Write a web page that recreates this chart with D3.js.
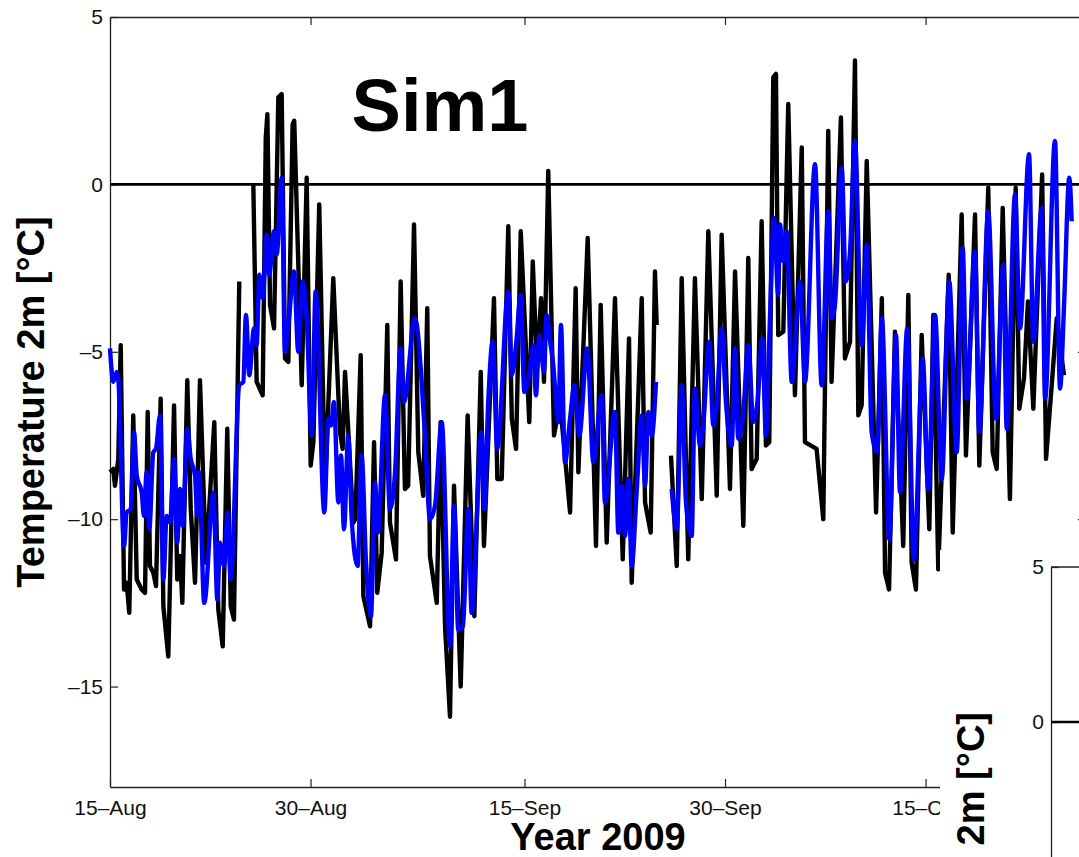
<!DOCTYPE html>
<html>
<head>
<meta charset="utf-8">
<script src="https://cdn.jsdelivr.net/npm/d3@7"></script>
<style>
  body { margin: 0; background: #fff; }
  svg { display: block; font-family: "Liberation Sans", Arial, Helvetica, sans-serif; }
</style>
</head>
<body>
<script>
const width = 1079;
const height = 857;

// days since 15-Aug-2009 00:00, temperature [°C]; null = missing data
const obsSeries = [
  [0.00,-8.6],[0.25,-8.5],[0.37,-9.0],[0.62,-8.2],[0.80,-4.8],[1.05,-12.1],[1.25,-11.9],[1.44,-12.8],
  [1.74,-6.9],[2.00,-11.8],[2.37,-12.1],[2.62,-12.2],[2.82,-6.8],[2.99,-11.4],[3.24,-11.6],[3.44,-12.0],
  [3.79,-6.4],[3.99,-12.6],[4.36,-14.1],[4.79,-6.6],[5.03,-11.8],[5.24,-11.1],[5.41,-12.5],[5.78,-5.85],
  [6.04,-9.7],[6.36,-11.9],[6.73,-5.85],[7.18,-11.3],[7.80,-7.1],[8.10,-12.7],[8.43,-13.8],[8.77,-7.3],
  [9.03,-12.6],[9.27,-13.0],[9.67,-2.9],[10.2,null],
  [10.72,0.0],[10.97,-5.9],[11.42,-6.3],[11.65,1.4],[11.77,2.1],[11.97,-3.6],[12.27,-4.3],[12.59,2.6],
  [12.84,2.7],[13.09,-5.2],[13.34,-5.3],[13.66,1.8],[13.78,1.9],[14.34,-6.0],[14.71,0.2],[15.01,-8.4],
  [15.21,-7.7],[15.65,-0.6],[16.08,-9.1],[16.70,-2.8],[17.20,-7.4],[17.40,-7.9],[17.58,-5.6],[18.20,-10.1],
  [18.35,-10.0],[18.75,-5.1],[18.95,-12.3],[19.45,-13.2],[19.75,-7.7],[19.99,-12.2],[20.32,-11.0],[20.74,-4.2],
  [20.94,-10.1],[21.39,-11.2],[21.74,-2.9],[22.06,-9.1],[22.30,-9.0],[22.74,-1.2],[23.06,-8.0],[23.43,-9.3],
  [23.73,-3.7],[23.93,-11.1],[24.44,-12.5],[24.73,-7.1],[25.06,-13.2],[25.43,-15.9],[25.73,-9.0],[26.23,-15.0],
  [26.75,-6.9],[27.25,-12.9],[27.73,-5.6],[27.97,-10.8],[28.72,-3.4],[28.97,-8.8],[29.30,-8.8],[29.79,-1.25],
  [30.05,-7.0],[30.37,-7.9],[30.72,-1.4],[31.36,-7.1],[31.62,-2.3],[31.94,-5.5],[32.24,-3.4],[32.46,-5.9],
  [32.78,0.4],[33.21,-7.5],[33.66,-6.5],[34.41,-9.8],[34.83,-3.1],[35.03,-8.6],[35.73,-1.6],[36.35,-10.8],
  [36.70,-3.6],[37.15,-10.7],[37.77,-3.4],[38.35,-11.2],[38.82,-4.6],[39.02,-11.9],[39.77,-3.4],[40.02,-9.5],
  [40.44,-10.4],[40.76,-2.6],[40.89,-4.2],[41.4,null],
  [41.96,-8.1],[42.39,-11.4],[42.76,-2.8],[43.25,-11.2],[43.75,-2.8],[44.26,-9.4],[44.75,-1.4],[45.38,-9.3],
  [45.75,-1.5],[46.37,-9.1],[46.75,-2.6],[47.37,-10.2],[47.74,-2.2],[47.99,-8.5],[48.37,-8.2],[48.74,-1.1],
  [49.06,-7.8],[49.31,-7.7],[49.61,3.2],[49.81,3.3],[49.98,-4.5],[50.36,-4.4],[50.73,2.4],[51.23,-6.3],
  [51.74,1.1],[51.98,-7.7],[52.85,-7.9],[53.35,-10.0],[53.72,1.6],[53.97,-5.9],[54.67,2.0],[54.97,-5.2],
  [55.35,-4.7],[55.72,3.7],[55.97,-6.9],[56.22,-6.6],[56.60,0.7],[57.30,-9.8],[57.73,-3.4],[57.97,-11.6],
  [58.27,-12.1],[58.71,-4.4],[59.33,-10.8],[59.71,-3.3],[59.96,-11.3],[60.28,-12.1],[60.71,-4.5],[61.28,-10.3],
  [61.58,-3.9],[61.95,-11.5],[62.73,-2.7],[63.03,-10.4],[63.70,-0.9],[64.02,-8.1],[64.70,-0.9],[65.02,-8.4],
  [65.69,-0.1],[66.02,-8.0],[66.32,-8.5],[66.77,-0.7],[67.31,-9.4],[67.74,-0.1],[68.01,-6.7],[68.36,-5.8],
  [68.66,-3.5],[69.06,-6.7],[69.72,0.3],[70.01,-8.2],[70.53,-5.5],[70.81,-4.0],[71.35,-5.7]
];

const sim1Series = [
  [0.00,-4.9],[0.25,-5.9],[0.50,-5.6],[0.62,-5.8],[1.05,-10.8],[1.25,-9.8],[1.55,-9.7],[1.80,-7.4],
  [2.00,-8.7],[2.37,-9.2],[2.54,-9.9],[2.74,-8.6],[2.94,-10.3],[3.24,-8.0],[3.44,-7.9],[3.74,-6.9],
  [3.99,-11.8],[4.24,-9.9],[4.49,-10.1],[4.79,-8.2],[5.03,-10.7],[5.24,-9.1],[5.44,-10.2],[5.78,-7.3],
  [6.04,-8.2],[6.36,-8.7],[6.53,-9.9],[6.66,-8.6],[7.05,-12.5],[7.73,-9.2],[8.03,-12.4],[8.23,-10.7],
  [8.53,-11.4],[8.80,-9.8],[9.03,-11.8],[9.67,-6.0],[9.97,-5.9],[10.17,-3.9],[10.42,-5.7],[10.77,-4.3],
  [10.97,-4.8],[11.17,-2.7],[11.42,-3.4],[11.72,-1.5],[11.91,-2.7],[12.27,-1.4],[12.47,-2.1],[12.84,0.2],
  [13.09,-5.0],[13.34,-4.2],[13.76,-2.6],[14.08,-5.0],[14.41,-2.9],[14.71,-4.0],[15.09,-7.5],[15.38,-3.2],
  [16.03,-9.8],[16.33,-7.0],[16.53,-7.2],[16.75,-6.5],[17.08,-9.5],[17.28,-8.1],[17.50,-10.3],[17.82,-7.5],
  [18.08,-10.0],[18.52,-11.4],[18.82,-8.1],[19.15,-11.3],[19.52,-12.9],[19.82,-8.9],[20.04,-10.4],[20.57,-6.3],
  [20.94,-9.7],[21.32,-8.6],[21.74,-4.9],[21.99,-6.5],[22.81,-4.0],[23.56,-7.5],[23.93,-10.0],[24.31,-9.6],
  [24.81,-7.1],[25.43,-13.8],[25.73,-9.6],[26.05,-13.3],[26.40,-13.2],[26.80,-9.7],[27.05,-12.8],[27.80,-7.4],
  [27.99,-9.7],[28.29,-6.5],[28.62,-4.7],[28.97,-7.9],[29.79,-3.2],[30.05,-5.7],[30.37,-4.8],[30.72,-3.3],
  [30.99,-6.2],[31.34,-5.7],[31.66,-4.8],[31.86,-6.3],[32.11,-4.5],[32.46,-5.6],[32.66,-3.9],[32.96,-4.8],
  [33.13,-5.3],[33.53,-7.1],[33.73,-4.2],[34.03,-8.3],[34.41,-7.0],[34.73,-6.0],[35.10,-7.5],[35.70,-4.9],
  [36.15,-8.3],[36.78,-6.3],[37.02,-9.5],[37.77,-6.8],[38.02,-10.4],[38.30,-9.0],[38.52,-10.5],[38.77,-8.8],
  [39.02,-11.4],[39.39,-9.2],[39.77,-6.9],[40.02,-9.0],[40.27,-6.8],[40.52,-7.5],[40.84,-5.9],[41.4,null],
  [42.01,-9.1],[42.39,-10.3],[42.76,-6.0],[43.08,-9.5],[43.51,-10.5],[43.75,-6.1],[44.13,-7.8],[44.35,-7.3],
  [44.82,-4.7],[45.12,-7.2],[45.38,-6.6],[45.75,-4.3],[46.07,-6.5],[46.50,-7.8],[46.75,-4.9],[46.99,-7.6],
  [47.37,-6.8],[47.74,-4.8],[48.12,-7.1],[48.43,-6.5],[48.79,-4.6],[49.06,-7.5],[49.36,-4.0],[49.66,-1.0],
  [49.98,-3.3],[50.11,-1.2],[50.36,-2.3],[50.61,-1.4],[50.99,-5.9],[51.61,-2.9],[51.98,-5.9],[52.73,0.6],
  [53.23,-6.0],[53.72,-0.8],[53.97,-4.0],[54.22,-3.6],[54.73,0.5],[55.03,-2.9],[55.35,-2.0],[55.72,1.3],
  [56.22,-4.8],[56.60,-1.8],[56.97,-7.4],[57.39,-8.0],[57.73,-4.0],[58.29,-10.6],[58.79,-4.5],[59.09,-9.2],
  [59.63,-4.3],[60.13,-11.2],[60.79,-5.2],[61.20,-9.1],[61.71,-3.9],[62.21,-8.8],[62.77,-2.9],[63.33,-8.0],
  [63.78,-1.9],[64.08,-6.4],[64.70,-2.0],[65.02,-7.4],[65.69,-0.8],[66.27,-7.0],[66.81,-2.4],[67.07,-7.3],
  [67.69,-0.3],[68.06,-4.3],[68.74,0.9],[69.06,-4.7],[69.69,-0.7],[69.94,-6.4],[70.68,1.3],[71.06,-6.1],
  [71.35,-3.7],[71.75,0.2],[71.93,-1.1]
];

const startDate = new Date(2009, 7, 15);
const endDate = new Date(2009, 9, 27);
const dateTicks = [new Date(2009, 7, 15), new Date(2009, 7, 30), new Date(2009, 8, 15),
                   new Date(2009, 8, 30), new Date(2009, 9, 15), new Date(2009, 9, 30)];
const yTicks = [5, 0, -5, -10, -15];
const insetTicks = [5, 0, -5];

const toDate = d => new Date(startDate.getTime() + d * 864e5);

const svg = d3.select("body").append("svg")
  .attr("width", width).attr("height", height)
  .attr("viewBox", `0 0 ${width} ${height}`);

const x = d3.scaleTime().domain([startDate, endDate]).range([110, 1086]);
const y = d3.scaleLinear().domain([-18, 5]).range([787, 17]);

const fmt = d3.timeFormat("%d\u2013%b");
const numFmt = d => d < 0 ? "\u2013" + Math.abs(d) : String(d);

function styleAxis(g) {
  g.select(".domain").attr("stroke", "#222").attr("stroke-width", 1.3);
  g.selectAll(".tick line").attr("stroke", "#222").attr("stroke-width", 1.2);
  g.selectAll(".tick text").attr("fill", "#111").style("font-size", "21px")
    .style("font-family", "'Liberation Sans', Arial, sans-serif");
}

// axes box
svg.append("g").attr("transform", "translate(0,787)")
  .call(d3.axisBottom(x).tickValues(dateTicks).tickFormat(fmt).tickSizeInner(-8).tickSizeOuter(0).tickPadding(13))
  .call(styleAxis);
svg.append("g").attr("transform", "translate(0,17)")
  .call(d3.axisTop(x).tickValues(dateTicks).tickFormat("").tickSizeInner(-8).tickSizeOuter(0))
  .call(styleAxis);
svg.append("g").attr("transform", "translate(110,0)")
  .call(d3.axisLeft(y).tickValues(yTicks).tickFormat(numFmt).tickSizeInner(-8).tickSizeOuter(0).tickPadding(7))
  .call(styleAxis);
svg.append("g").attr("transform", "translate(1086,0)")
  .call(d3.axisRight(y).tickValues(yTicks).tickFormat("").tickSizeInner(-8).tickSizeOuter(0))
  .call(styleAxis);

// zero line
svg.append("line")
  .attr("x1", x(startDate)).attr("x2", x(endDate))
  .attr("y1", y(0)).attr("y2", y(0))
  .attr("stroke", "#000").attr("stroke-width", 2.6);

const line = d3.line()
  .defined(d => d[1] !== null)
  .x(d => x(toDate(d[0])))
  .y(d => y(d[1]));

svg.append("path").datum(obsSeries)
  .attr("d", line)
  .attr("fill", "none").attr("stroke", "#000").attr("stroke-width", 4.4)
  .attr("stroke-linejoin", "round");

svg.append("path").datum(sim1Series)
  .attr("d", line.curve(d3.curveMonotoneX))
  .attr("fill", "none").attr("stroke", "#0000ff").attr("stroke-width", 4.4)
  .attr("stroke-linejoin", "round");

// labels
svg.append("text")
  .attr("x", 440).attr("y", 131)
  .attr("text-anchor", "middle")
  .style("font-size", "74px").style("font-weight", "bold")
  .text("Sim1");

svg.append("text")
  .attr("x", 598).attr("y", 850)
  .attr("text-anchor", "middle")
  .style("font-size", "38px").style("font-weight", "bold")
  .text("Year 2009");

svg.append("text")
  .attr("transform", "translate(44,402) rotate(-90)")
  .attr("text-anchor", "middle")
  .style("font-size", "38px").style("font-weight", "bold")
  .text("Temperature 2m [\u00b0C]");

// neighbouring panel overlapping the lower right corner
svg.append("rect")
  .attr("x", 940).attr("y", 550)
  .attr("width", width - 940).attr("height", height - 550)
  .attr("fill", "#fff");

const yInset = d3.scaleLinear().domain([-5, 5]).range([877, 567]);

svg.append("g").attr("transform", "translate(1051,0)")
  .call(d3.axisLeft(yInset).tickValues(insetTicks).tickFormat(numFmt).tickSizeInner(-8).tickSizeOuter(0).tickPadding(7))
  .call(styleAxis);

svg.append("line")
  .attr("x1", 1051).attr("x2", width + 5)
  .attr("y1", yInset(5)).attr("y2", yInset(5))
  .attr("stroke", "#222").attr("stroke-width", 1.3);

svg.append("line")
  .attr("x1", 1051).attr("x2", width + 5)
  .attr("y1", yInset(0)).attr("y2", yInset(0))
  .attr("stroke", "#000").attr("stroke-width", 2.6);

svg.append("text")
  .attr("transform", "translate(984,712) rotate(-90)")
  .attr("text-anchor", "end")
  .style("font-size", "38px").style("font-weight", "bold")
  .text("Temperature 2m [\u00b0C]");
</script>
</body>
</html>
